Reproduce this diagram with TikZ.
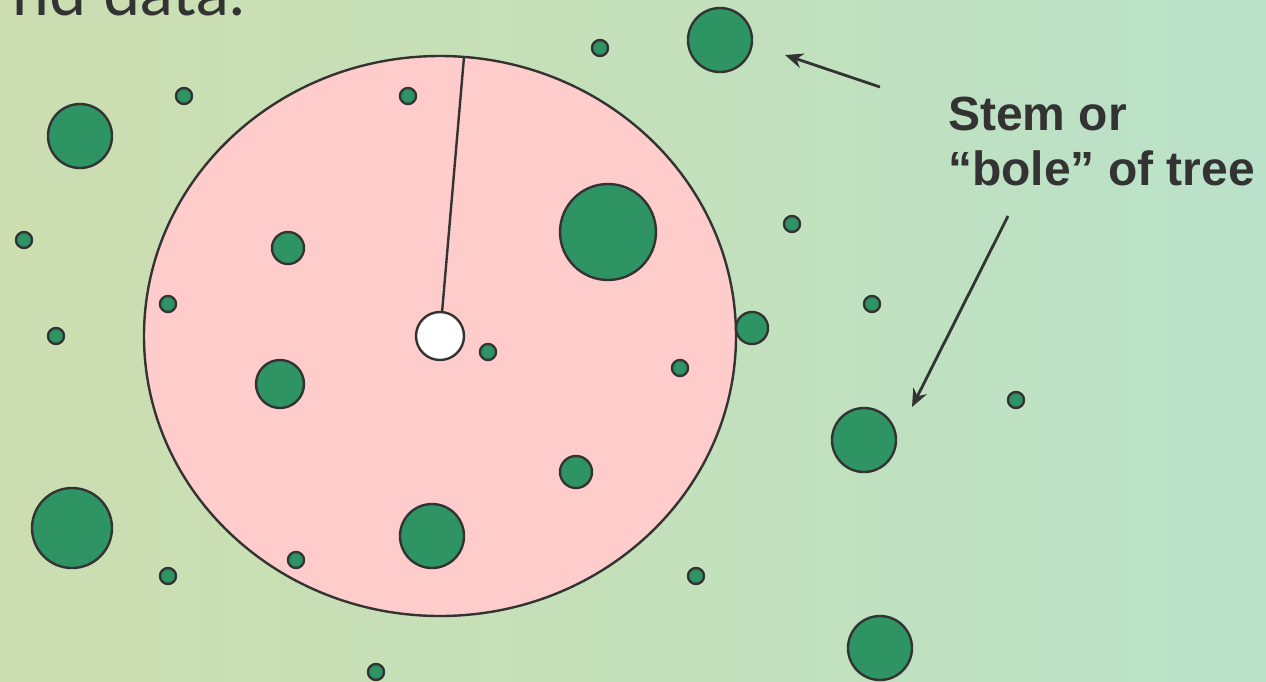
\documentclass[tikz,border=0pt]{standalone}
\usepackage{fontspec}
\setmainfont{Liberation Sans}
\newfontfamily\titlefont{Lato}
\usetikzlibrary{arrows,arrows.meta,shapes}
\definecolor{plotpink}{RGB}{255,204,204}
\definecolor{stemgreen}{RGB}{46,148,100}
\definecolor{ink}{RGB}{51,51,51}
\definecolor{bgleft}{RGB}{204,222,176}
\definecolor{bgmid}{RGB}{196,224,186}
\definecolor{bgright}{RGB}{186,226,202}
\tikzstyle{plot}=[ellipse,draw=ink,fill=plotpink,line width=2.4pt,inner sep=0pt]
\tikzstyle{stem}=[circle,draw=ink,fill=stemgreen,line width=2.4pt,inner sep=0pt]
\tikzstyle{ptr}=[-{Stealth[length=18pt,width=15pt]},draw=ink,line width=2.8pt]
\tikzstyle{lbl}=[anchor=base west,inner sep=0pt,text=ink,font=\bfseries\fontsize{48}{55}\selectfont]

\begin{document}
\begin{tikzpicture}[x=1pt,y=-1pt]
\useasboundingbox (0,0) rectangle (1266,681);
\fill[left color=bgleft,right color=bgmid] (0,0) rectangle (633,681);
\fill[left color=bgmid,right color=bgright] (633,0) rectangle (1266,681);
\node[anchor=base east,inner sep=0pt,text=ink,font=\titlefont\fontsize{66}{70}\selectfont] (T) at (245,15) {nd data.};
% sample plot
\node[plot,minimum width=592,minimum height=560] (P) at (440,336) {};
% stems
\node[stem,minimum size=64] (t1) at (720,40) {};
\node[stem,minimum size=16] (t2) at (600,48) {};
\node[stem,minimum size=16] (t3) at (184,96) {};
\node[stem,minimum size=16] (t4) at (408,96) {};
\node[stem,minimum size=64] (t5) at (80,136) {};
\node[stem,minimum size=16] (t6) at (24,240) {};
\node[stem,minimum size=32] (t7) at (288,248) {};
\node[stem,minimum size=96] (t8) at (608,232) {};
\node[stem,minimum size=16] (t9) at (792,224) {};
\node[stem,minimum size=16] (t10) at (168,304) {};
\node[stem,minimum size=16] (t11) at (56,336) {};
\node[stem,minimum size=32] (t12) at (752,328) {};
\node[stem,minimum size=16] (t13) at (872,304) {};
\node[stem,minimum size=16] (t14) at (488,352) {};
\node[stem,minimum size=16] (t15) at (680,368) {};
\node[stem,minimum size=48] (t16) at (280,384) {};
\node[stem,minimum size=16] (t17) at (1016,400) {};
\node[stem,minimum size=64] (t18) at (864,440) {};
\node[stem,minimum size=32] (t19) at (576,472) {};
\node[stem,minimum size=80] (t20) at (72,528) {};
\node[stem,minimum size=64] (t21) at (432,536) {};
\node[stem,minimum size=16] (t22) at (296,560) {};
\node[stem,minimum size=16] (t23) at (168,576) {};
\node[stem,minimum size=16] (t24) at (696,576) {};
\node[stem,minimum size=64] (t25) at (880,648) {};
\node[stem,minimum size=16] (t26) at (376,672) {};
% plot centre and radius
\node[stem,fill=white,minimum size=48] (C) at (440,336) {};
\coordinate (R) at (464,57);
\draw[ink,line width=2.4pt] (C) -- (R);
% label
\node[lbl] (L1) at (948,130) {Stem or};
\node[lbl] (L2) at (948,185) {“bole” of tree};
\coordinate (a1) at (880,87);
\coordinate (b1) at (785,55);
\coordinate (a2) at (1008,216);
\coordinate (b2) at (912,407);
\draw[ptr] (a1) -- (b1);
\draw[ptr] (a2) -- (b2);
\end{tikzpicture}
\end{document}
